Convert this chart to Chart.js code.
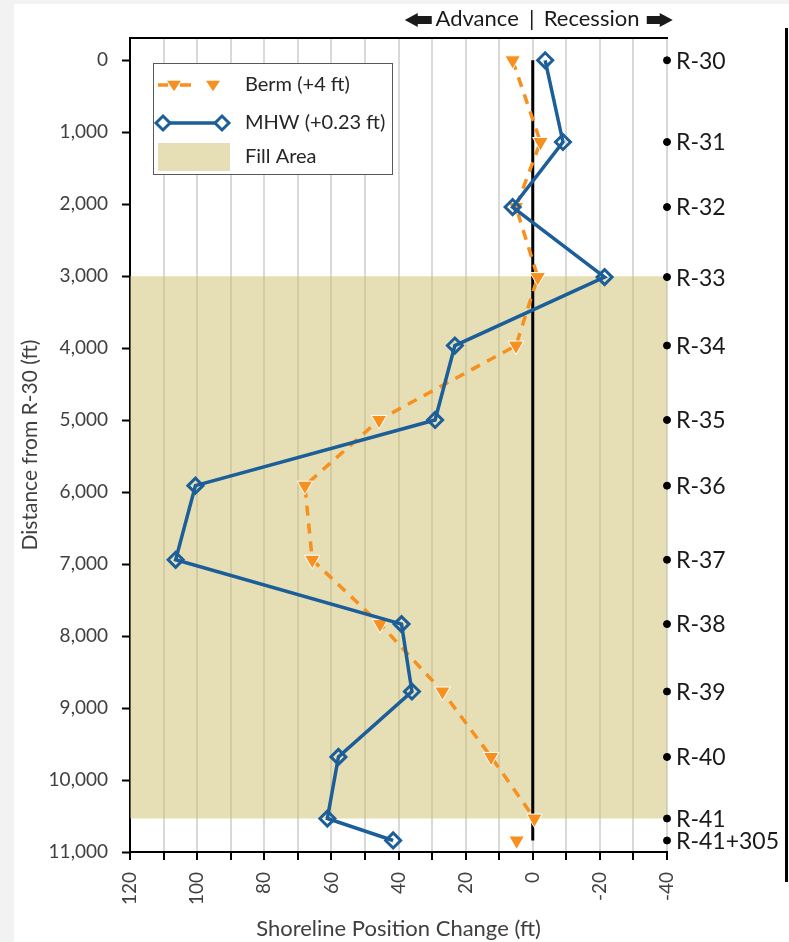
<!DOCTYPE html>
<html>
<head>
<meta charset="utf-8">
<title>Shoreline Position Change</title>
<script src="https://cdn.jsdelivr.net/npm/chart.js@4.4.0/dist/chart.umd.min.js"></script>
<style>
    html, body { margin: 0; padding: 0; background: #f2f2f2; }
    #panel { position: absolute; left: 14px; top: 4px; width: 775px; height: 938px; background: #fff; }
    #wrap { position: absolute; left: 0; top: 0; width: 789px; height: 942px; }
    #edge { position: absolute; left: 785px; top: 28px; width: 3px; height: 854px; background: #000; }
</style>
</head>
<body>
<div id="panel"></div>
<div id="edge"></div>
<div id="wrap"><canvas id="chart"></canvas></div>
<script>
// Monuments along the shore and their distance from R-30 (ft)
const stationNames = ['R-30', 'R-31', 'R-32', 'R-33', 'R-34', 'R-35', 'R-36',
                      'R-37', 'R-38', 'R-39', 'R-40', 'R-41', 'R-41+305'];
const stationDist = [0, 1135, 2039, 3012, 3963, 4997, 5910,
                     6940, 7833, 8770, 9679, 10535, 10840];

// Shoreline position change (ft), positive = advance
const bermChange = [6.0, -2.3, 5.0, -1.5, 5.0, 45.8, 67.9, 65.7, 45.5, 26.9, 12.4, -0.5, 4.8];
const mhwChange = [-3.7, -9.0, 6.0, -21.4, 23.2, 29.1, 100.5, 106.4, 39.1, 36.0, 57.9, 61.2, 41.6];

// Fill placement limits (distance from R-30, ft)
const fillAreaRange = [3000, 10535];

// Axis ticks
const xTickValues = [120, 110, 100, 90, 80, 70, 60, 50, 40, 30, 20, 10, 0, -10, -20, -30, -40];
const yTickValues = [0, 1000, 2000, 3000, 4000, 5000, 6000, 7000, 8000, 9000, 10000, 11000];
const yTopMargin = -310;

const xMax = Math.max(...xTickValues);
const xMin = Math.min(...xTickValues);

const ORANGE = '#f7901e';
const BLUE = '#1c5e99';
const FONT = 'Lato';

function drawArrow(ctx, tail, base, tip, y) {
    ctx.beginPath();
    ctx.moveTo(tail, y - 4);
    ctx.lineTo(base, y - 4);
    ctx.lineTo(base, y - 7);
    ctx.lineTo(tip, y);
    ctx.lineTo(base, y + 7);
    ctx.lineTo(base, y + 4);
    ctx.lineTo(tail, y + 4);
    ctx.closePath();
    ctx.fill();
}

function drawTriangleDown(ctx, x, y, r) {
    ctx.beginPath();
    ctx.moveTo(x - r, y - r * 0.6);
    ctx.lineTo(x + r, y - r * 0.6);
    ctx.lineTo(x, y + r * 0.9);
    ctx.closePath();
    ctx.fill();
}

function drawDiamond(ctx, x, y, r) {
    ctx.beginPath();
    ctx.moveTo(x, y - r);
    ctx.lineTo(x + r, y);
    ctx.lineTo(x, y + r);
    ctx.lineTo(x - r, y);
    ctx.closePath();
    ctx.fillStyle = '#fff';
    ctx.fill();
    ctx.stroke();
}

// header, station names and the legend box
const extras = {
    id: 'extras',
    afterDatasetsDraw(chart) {
        const { ctx, chartArea, scales } = chart;
        const x0 = scales.x.getPixelForValue(0);
        ctx.save();

        // Advance | Recession
        ctx.fillStyle = '#1a1a1a';
        ctx.font = '22px ' + FONT;
        ctx.textBaseline = 'middle';
        ctx.textAlign = 'right';
        ctx.fillText('Advance', x0 - 14, 19);
        ctx.textAlign = 'center';
        ctx.fillText('|', x0 - 1, 19);
        ctx.textAlign = 'left';
        ctx.fillText('Recession', x0 + 11, 19);
        drawArrow(ctx, x0 - 101, x0 - 115, x0 - 128, 20);
        drawArrow(ctx, x0 + 114, x0 + 127, x0 + 140, 20);

        // station labels next to the dots
        const meta = chart.getDatasetMeta(4);
        ctx.font = '23px ' + FONT;
        ctx.fillStyle = '#1a1a1a';
        meta.data.forEach((pt, i) => {
            ctx.fillText(stationNames[i], pt.x + 9, pt.y + 1);
        });

        // legend
        const lx = chartArea.left + 23;
        const ly = chartArea.top + 25;
        ctx.fillStyle = '#fff';
        ctx.fillRect(lx, ly, 239, 111);
        ctx.strokeStyle = '#595959';
        ctx.lineWidth = 1;
        ctx.strokeRect(lx + 0.5, ly + 0.5, 239, 111);

        // Berm row
        let ry = ly + 22;
        ctx.strokeStyle = ORANGE;
        ctx.fillStyle = ORANGE;
        ctx.lineWidth = 3.5;
        ctx.beginPath();
        ctx.moveTo(lx + 5, ry); ctx.lineTo(lx + 15, ry);
        ctx.moveTo(lx + 27, ry); ctx.lineTo(lx + 38, ry);
        ctx.stroke();
        drawTriangleDown(ctx, lx + 21, ry, 7);
        drawTriangleDown(ctx, lx + 60, ry, 7);

        // MHW row
        ry = ly + 60;
        ctx.strokeStyle = BLUE;
        ctx.beginPath();
        ctx.moveTo(lx + 10, ry); ctx.lineTo(lx + 69, ry);
        ctx.stroke();
        ctx.lineWidth = 3;
        drawDiamond(ctx, lx + 10, ry, 7);
        drawDiamond(ctx, lx + 69, ry, 7);

        // Fill row
        ctx.fillStyle = '#e6dfb5';
        ctx.fillRect(lx + 5, ly + 80, 72, 28);

        ctx.fillStyle = '#262626';
        ctx.font = '20px ' + FONT;
        ctx.textAlign = 'left';
        ctx.fillText('Berm (+4 ft)', lx + 92, ly + 22);
        ctx.fillText('MHW (+0.23 ft)', lx + 92, ly + 60);
        ctx.fillText('Fill Area', lx + 92, ly + 94);
        ctx.restore();
    }
};

const lastIdx = stationDist.length - 1;

const datasets = [
    {
        label: 'Fill Area',
        data: [{ x: xMax, y: fillAreaRange[0] }, { x: xMin, y: fillAreaRange[0] }],
        showLine: true,
        borderWidth: 0,
        borderColor: 'rgba(0,0,0,0)',
        pointRadius: 0,
        backgroundColor: 'rgba(205,191,107,0.5)',
        fill: { value: fillAreaRange[1] },
        order: 10
    },
    {
        label: 'Zero',
        data: [{ x: 0, y: stationDist[0] }, { x: 0, y: stationDist[lastIdx] }],
        showLine: true,
        borderColor: '#000',
        borderWidth: 3,
        pointRadius: 0,
        order: 5
    },
    {
        label: 'Berm (+4 ft)',
        data: stationDist.map((d, i) => ({ x: bermChange[i], y: d })),
        showLine: true,
        borderColor: ORANGE,
        borderWidth: 3.5,
        borderDash: [10, 8],
        pointStyle: 'triangle',
        rotation: 180,
        pointRadius: 9,
        pointBackgroundColor: ORANGE,
        pointBorderColor: '#fff',
        pointBorderWidth: 1,
        segment: {
            borderColor: c => c.p1DataIndex === lastIdx ? 'rgba(0,0,0,0)' : undefined
        },
        order: 2
    },
    {
        label: 'MHW (+0.23 ft)',
        data: stationDist.map((d, i) => ({ x: mhwChange[i], y: d })),
        showLine: true,
        borderColor: BLUE,
        borderWidth: 3.5,
        pointStyle: 'rectRot',
        pointRadius: 7.5,
        pointBackgroundColor: 'rgba(0,0,0,0)',
        pointBorderColor: BLUE,
        pointBorderWidth: 3,
        order: 1
    },
    {
        label: 'Stations',
        data: stationDist.map(d => ({ x: xMin, y: d })),
        showLine: false,
        pointRadius: 3.5,
        pointBackgroundColor: '#000',
        pointBorderColor: '#000',
        clip: false,
        order: 0
    }
];

new Chart(document.getElementById('chart'), {
    type: 'scatter',
    data: { datasets: datasets },
    options: {
        responsive: true,
        maintainAspectRatio: false,
        animation: false,
        layout: { padding: { left: 0, right: 122, top: 38, bottom: 0 } },
        plugins: {
            legend: { display: false },
            tooltip: { enabled: false }
        },
        scales: {
            x: {
                type: 'linear',
                position: 'bottom',
                reverse: true,
                min: xMin,
                max: xMax,
                afterBuildTicks: axis => { axis.ticks = xTickValues.map(v => ({ value: v })); },
                afterFit: axis => { axis.height = 90; },
                ticks: {
                    autoSkip: false,
                    minRotation: 90,
                    maxRotation: 90,
                    padding: 12,
                    color: '#404040',
                    font: { family: FONT, size: 19 },
                    callback: v => (v % 20 === 0 ? String(v) : '')
                },
                grid: {
                    color: '#d9d9d9',
                    lineWidth: 2,
                    tickColor: '#000',
                    tickLength: 8,
                    tickWidth: 2
                },
                border: { display: true, color: '#000', width: 2 },
                title: {
                    display: true,
                    text: 'Shoreline Position Change (ft)',
                    color: '#404040',
                    font: { family: FONT, size: 22 },
                    padding: { top: 0, bottom: 0 }
                }
            },
            x2: {
                type: 'linear',
                position: 'top',
                reverse: true,
                min: xMin,
                max: xMax,
                afterFit: axis => { axis.height = 0; },
                ticks: { display: false },
                grid: { display: false, drawTicks: false },
                border: { display: true, color: '#000', width: 2 }
            },
            y: {
                type: 'linear',
                position: 'left',
                reverse: true,
                min: yTopMargin,
                max: yTickValues[yTickValues.length - 1],
                afterBuildTicks: axis => { axis.ticks = yTickValues.map(v => ({ value: v })); },
                afterFit: axis => { axis.width = 130; },
                ticks: {
                    padding: 14,
                    color: '#404040',
                    font: { family: FONT, size: 19 },
                    callback: v => v.toLocaleString('en-US')
                },
                grid: {
                    drawOnChartArea: false,
                    tickColor: '#000',
                    tickLength: 8,
                    tickWidth: 2
                },
                border: { display: true, color: '#000', width: 2 },
                title: {
                    display: true,
                    text: 'Distance from R-30 (ft)',
                    color: '#404040',
                    font: { family: FONT, size: 21 },
                    padding: { top: 18, bottom: 0 }
                }
            }
        }
    },
    plugins: [extras]
});
</script>
</body>
</html>
